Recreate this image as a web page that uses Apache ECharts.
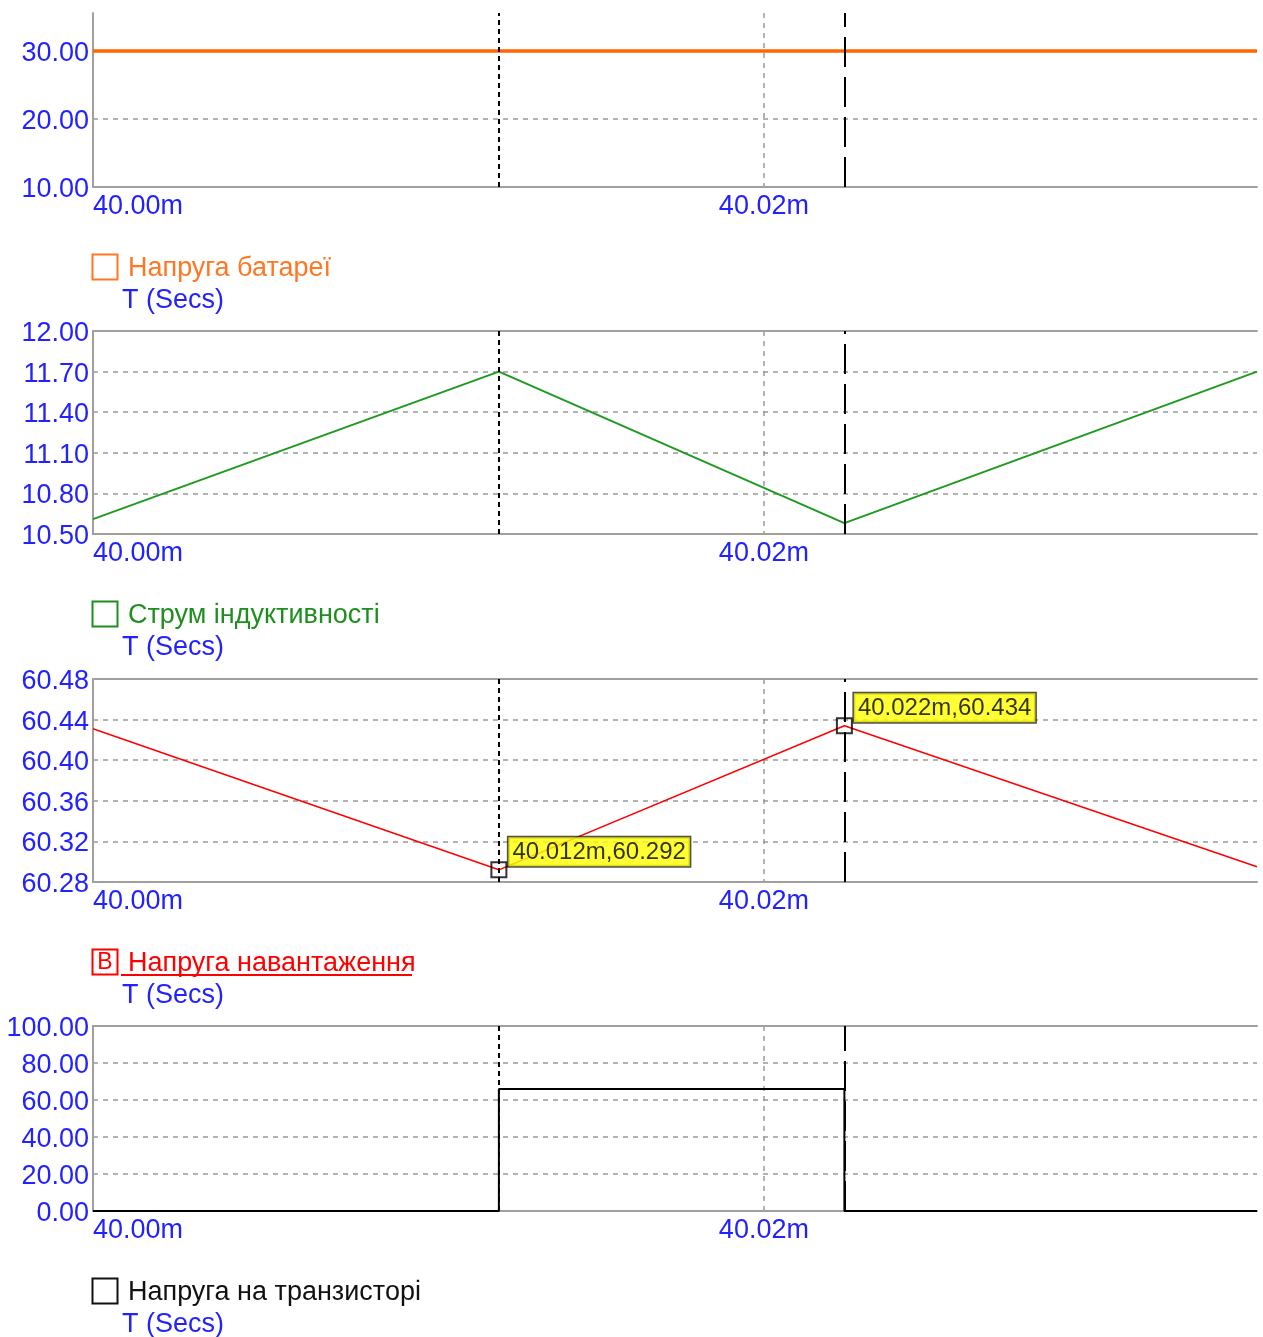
<!DOCTYPE html>
<html>
<head>
<meta charset="utf-8">
<script src="https://cdn.jsdelivr.net/npm/echarts@6/dist/echarts.min.js"></script>
<style>
	html, body { margin: 0; padding: 0; background: #fff; }
	#chart { width: 1263px; height: 1337px; }
</style>
</head>
<body>
<div id="chart"></div>
<script>
	// time in ms
	var tMin = 40.0;
	var tMax = 40.0347;
	var xTicks = [40.00, 40.02];
	var cursorT = [40.0121, 40.0224];

	var battT = [40.0, 40.0347];
	var battV = [30, 30];

	var indT = [40.0, 40.0121, 40.0224, 40.0347];
	var indI = [10.61, 11.70, 10.58, 11.70];

	var loadT = [40.0, 40.0121, 40.0224, 40.0347];
	var loadV = [60.431, 60.292, 60.434, 60.295];
	var loadCursorV = [60.292, 60.434];

	var trT = [40.0, 40.0121, 40.0121, 40.0224, 40.0224, 40.0347];
	var trV = [0, 0, 65.9, 65.9, 0, 0];

	var yTicks0 = [10, 20, 30];
	var yTicks1 = [10.5, 10.8, 11.1, 11.4, 11.7, 12.0];
	var yTicks2 = [60.28, 60.32, 60.36, 60.40, 60.44, 60.48];
	var yTicks3 = [0, 20, 40, 60, 80, 100];

	var names = ['Напруга батареї', 'Струм індуктивності', 'Напруга навантаження', 'Напруга на транзисторі'];
	var colors = ['#ff6600', '#1e9a1e', '#ff0000', '#000000'];
	var textColors = ['#ff7722', '#1e8f1e', '#ff0000', '#111111'];

	var blue = '#2222ff';
	var font = 'Arial, "Liberation Sans", sans-serif';
	var gridTops = [13, 331, 679, 1026];
	var gridHeights = [174, 203, 203, 185];
	var yRanges = [[10, 35.588], [10.5, 12.0], [60.28, 60.48], [0, 100]];
	var yTicks = [yTicks0, yTicks1, yTicks2, yTicks3];

	function zip(a, b) {
		return a.map(function (v, i) { return [v, b[i]]; });
	}

	var grids = [], xAxes = [], yAxes = [], series = [], graphic = [];

	gridTops.forEach(function (top, i) {
		grids.push({ left: 93, right: 6, top: top, height: gridHeights[i] });
		xAxes.push({
			type: 'value', gridIndex: i, min: tMin, max: tMax, position: 'bottom',
			axisLine: { show: true, lineStyle: { color: '#a0a0a0', width: 2 } },
			axisTick: { show: false, customValues: xTicks },
			axisLabel: {
				customValues: xTicks, color: blue, fontSize: 27, fontFamily: font, margin: 6,
				alignMinLabel: 'left',
				formatter: function (v) { return v.toFixed(2) + 'm'; }
			},
			splitLine: { show: true, lineStyle: { color: '#999', type: [5, 5], width: 1.5 } }
		});
		yAxes.push({
			type: 'value', gridIndex: i, min: yRanges[i][0], max: yRanges[i][1],
			axisLine: { show: true, lineStyle: { color: '#a0a0a0', width: 2 } },
			axisTick: { show: false, customValues: yTicks[i] },
			axisLabel: {
				customValues: yTicks[i], color: blue, fontSize: 27, fontFamily: font, margin: 4,
				formatter: function (v) { return '{v|' + v.toFixed(2) + '}'; },
				rich: { v: { color: blue, fontSize: 27, fontFamily: font, padding: [5, 0, 0, 0] } }
			},
			splitLine: { show: true, lineStyle: { color: '#999', type: [5, 5], width: 1.5 } }
		});
	});

	// top border for the lower panels
	for (var k = 1; k < 4; k++) {
		xAxes.push({
			type: 'value', gridIndex: k, min: tMin, max: tMax, position: 'top',
			axisLine: { show: true, lineStyle: { color: '#a0a0a0', width: 2 } },
			axisTick: { show: false }, axisLabel: { show: false }, splitLine: { show: false }
		});
	}

	var cursorLines = {
		silent: true, symbol: 'none', precision: 5, label: { show: false }, animation: false,
		data: [
			{ xAxis: cursorT[0], lineStyle: { color: '#000', type: [5, 4], width: 2 } },
			{ xAxis: cursorT[1], lineStyle: { color: '#000', type: [30, 10], width: 2 } }
		]
	};

	var lines = [zip(battT, battV), zip(indT, indI), zip(loadT, loadV), zip(trT, trV)];
	var widths = [3.5, 2, 1.5, 2];
	lines.forEach(function (d, i) {
		series.push({
			name: names[i], type: 'line', xAxisIndex: i, yAxisIndex: i, data: d,
			symbol: 'none', lineStyle: { color: colors[i], width: widths[i] },
			markLine: cursorLines
		});
	});

	series.push({
		type: 'scatter', xAxisIndex: 2, yAxisIndex: 2, data: zip(cursorT, loadCursorV),
		symbol: 'rect', symbolSize: 15, z: 5,
		itemStyle: { color: 'rgba(255,255,255,0)', borderColor: '#000', borderWidth: 2 },
		label: {
			show: true, position: [18, -24], color: '#000', fontSize: 24, fontFamily: font,
			backgroundColor: '#ffff00', borderColor: '#222', borderWidth: 1.5, padding: [3, 4, 2, 4],
			formatter: function (p) { return p.value[0].toFixed(3) + 'm,' + p.value[1].toFixed(3); }
		}
	});

	// legend blocks below each panel
	gridTops.forEach(function (top, i) {
		var b = top + gridHeights[i];
		graphic.push({
			type: 'rect', shape: { x: 92.5, y: b + 67.5, width: 25, height: 25 },
			style: { fill: 'none', stroke: textColors[i], lineWidth: 2 }, z: 10
		});
		graphic.push({
			type: 'text', x: 128, y: b + 82,
			style: { text: names[i], fill: textColors[i], font: '27px ' + font, verticalAlign: 'middle' }, z: 10
		});
		graphic.push({
			type: 'text', x: 122, y: b + 114,
			style: { text: 'T (Secs)', fill: blue, font: '27px ' + font, verticalAlign: 'middle' }, z: 10
		});
		if (i === 2) {
			graphic.push({
				type: 'text', x: 105, y: b + 81,
				style: { text: 'B', fill: '#ff0000', font: '23px ' + font, align: 'center', verticalAlign: 'middle' }, z: 10
			});
			graphic.push({
				type: 'line', shape: { x1: 121, y1: b + 93, x2: 412, y2: b + 93 },
				style: { stroke: '#ff0000', lineWidth: 2 }, z: 10
			});
		}
	});

	var option = {
		backgroundColor: '#fff',
		animation: false,
		grid: grids,
		xAxis: xAxes,
		yAxis: yAxes,
		series: series,
		graphic: graphic
	};

	var myChart = echarts.init(document.getElementById('chart'));
	myChart.setOption(option);
</script>
</body>
</html>
